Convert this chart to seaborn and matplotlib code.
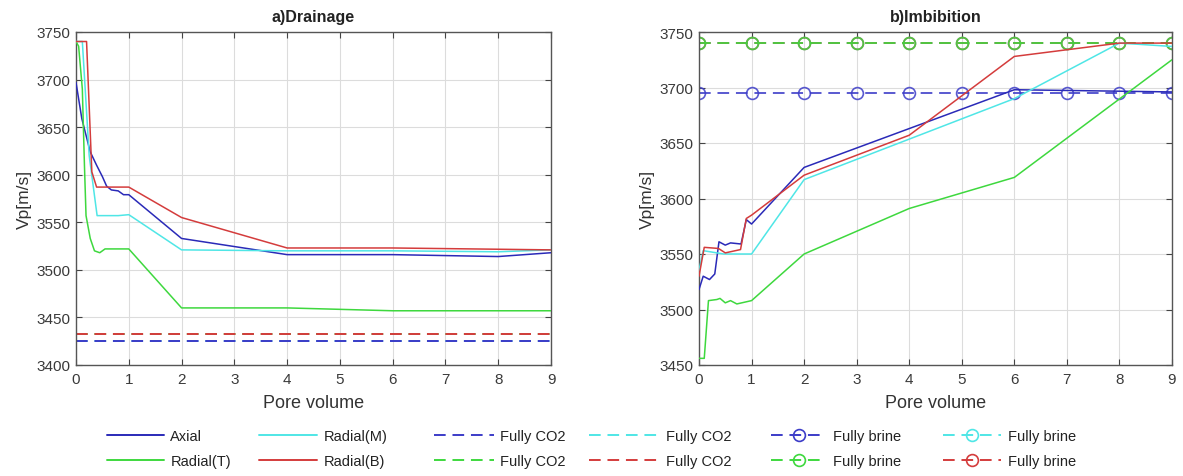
import numpy as np
import pandas as pd
import matplotlib
matplotlib.use("Agg")
import matplotlib.pyplot as plt
import seaborn as sns
from matplotlib.lines import Line2D

# ---------------- data ----------------
# a) Drainage
dr_axial_x = [0, 0.11, 0.27, 0.39, 0.5, 0.58, 0.67, 0.8, 0.9, 1.0, 2, 4, 6, 8, 9]
dr_axial_y = [3697, 3659, 3624, 3610, 3598, 3588, 3584, 3583, 3579, 3579, 3533, 3516, 3516, 3514, 3518]
dr_radT_x = [0, 0.05, 0.12, 0.16, 0.19, 0.27, 0.35, 0.45, 0.55, 1.0, 2, 4, 6, 9]
dr_radT_y = [3740, 3735, 3690, 3610, 3557, 3533, 3520, 3518, 3522, 3522, 3460, 3460, 3457, 3457]
dr_radM_x = [0, 0.12, 0.25, 0.4, 0.8, 1.0, 2, 4, 6, 8, 9]
dr_radM_y = [3740, 3740, 3620, 3557, 3557, 3558, 3521, 3520, 3520, 3519, 3521]
dr_radB_x = [0, 0.2, 0.3, 0.39, 1.0, 2, 4, 6, 9]
dr_radB_y = [3740, 3740, 3603, 3587, 3587, 3555, 3523, 3523, 3521]
co2_x = [0, 9]
co2_blue, co2_green, co2_cyan, co2_red = 3425, 3433, 3425, 3433

# b) Imbibition
im_axial_x = [0, 0.08, 0.2, 0.3, 0.38, 0.5, 0.6, 0.8, 0.9, 1.0, 2, 6, 9]
im_axial_y = [3518, 3530, 3527, 3532, 3561, 3558, 3560, 3559, 3581, 3577, 3628, 3698, 3696]
im_radT_x = [0, 0.1, 0.18, 0.34, 0.4, 0.5, 0.6, 0.72, 1.0, 2, 4, 6, 9]
im_radT_y = [3456, 3456, 3508, 3509, 3510, 3506, 3508, 3505, 3508, 3550, 3591, 3619, 3725]
im_radM_x = [0, 0.08, 0.47, 1.0, 2, 6, 8, 9]
im_radM_y = [3535, 3553, 3550, 3550, 3617, 3690, 3740, 3737]
im_radB_x = [0, 0.1, 0.37, 0.5, 0.79, 0.9, 1.0, 2, 4, 6, 8, 9]
im_radB_y = [3530, 3556, 3555, 3551, 3554, 3582, 3585, 3621, 3657, 3728, 3740, 3740]
brine_x = [0, 1, 2, 3, 4, 5, 6, 7, 8, 9]
brine_blue, brine_green, brine_cyan, brine_red = 3695, 3740, 3740, 3740

series_labels = ["Axial", "Radial(T)", "Radial(M)", "Radial(B)"]
co2_label = "Fully CO2"
brine_label = "Fully brine"
titles = ["a)Drainage", "b)Imbibition"]
xlabel = "Pore volume"
ylabel = "Vp[m/s]"

# ---------------- style ----------------
C_BLUE = "#2a2ab8"
C_BLUE_D = "#3c3cc8"
C_GREEN = "#3ed83e"
C_CYAN = "#4fe6e6"
C_RED = "#d43c3c"

sns.set_style("whitegrid")
plt.rcParams["font.family"] = ["Liberation Sans", "DejaVu Sans"]

W, H = 1183, 477
fig = plt.figure(figsize=(W / 100, H / 100), dpi=100)
ax1 = fig.add_axes([76 / W, 1 - 366 / H, 475 / W, 333 / H])
ax2 = fig.add_axes([699 / W, 1 - 366 / H, 473 / W, 333 / H])

LW = 1.1
DASH = (0, (6, 3.5))


def line(ax, x, y, color, **kw):
    sns.lineplot(x=np.asarray(x, float), y=np.asarray(y, float), ax=ax, color=color,
                 estimator=None, sort=False, legend=False, **kw)


# Drainage
for val, col, z in [(co2_green, C_GREEN, 1), (co2_cyan, C_CYAN, 1),
                    (co2_blue, C_BLUE_D, 2), (co2_red, C_RED, 2)]:
    line(ax1, co2_x, [val] * len(co2_x), col, linewidth=1.4, linestyle=DASH, zorder=z)
line(ax1, dr_axial_x, dr_axial_y, C_BLUE, linewidth=LW, zorder=3)
line(ax1, dr_radT_x, dr_radT_y, C_GREEN, linewidth=LW, zorder=3)
line(ax1, dr_radM_x, dr_radM_y, C_CYAN, linewidth=LW, zorder=3)
line(ax1, dr_radB_x, dr_radB_y, C_RED, linewidth=LW, zorder=3)

# Imbibition
for val, col, z in [(brine_cyan, C_CYAN, 1), (brine_red, C_RED, 2),
                    (brine_green, C_GREEN, 2.5), (brine_blue, C_BLUE_D, 2)]:
    line(ax2, brine_x, [val] * len(brine_x), col, linewidth=1.4, linestyle=DASH,
         marker="o", markersize=8.5, markerfacecolor="none", markeredgewidth=1.2,
         markeredgecolor=col, alpha=0.85, zorder=z)
line(ax2, im_axial_x, im_axial_y, C_BLUE, linewidth=LW, zorder=3)
line(ax2, im_radT_x, im_radT_y, C_GREEN, linewidth=LW, zorder=3)
line(ax2, im_radM_x, im_radM_y, C_CYAN, linewidth=LW, zorder=3)
line(ax2, im_radB_x, im_radB_y, C_RED, linewidth=LW, zorder=3)

for ax, title, ylim, yt in [(ax1, titles[0], (3400, 3750), np.arange(3400, 3751, 50)),
                            (ax2, titles[1], (3450, 3750), np.arange(3450, 3751, 50))]:
    ax.set_xlim(0, 9)
    ax.set_ylim(*ylim)
    ax.set_xticks(range(0, 10))
    ax.set_yticks(yt)
    ax.set_title(title, fontsize=11.5, fontweight="bold", color="#222222", pad=8)
    ax.set_xlabel(xlabel, fontsize=13, color="#333333", labelpad=6)
    ax.set_ylabel(ylabel, fontsize=12.5, color="#333333", labelpad=3)
    ax.grid(True, color="#dcdcdc", linewidth=0.8)
    ax.tick_params(axis="both", which="both", direction="in", length=4, width=0.8,
                   labelsize=11, colors="#444444", top=True, right=True,
                   bottom=True, left=True, pad=4)
    ax.tick_params(axis="x", pad=5)
    ax.tick_params(axis="both", labelcolor="#3a3a3a")
    for sp in ax.spines.values():
        sp.set_visible(True)
        sp.set_color("#555555")
        sp.set_linewidth(1.0)
    ax.set_facecolor("white")

# Legend: six two-row columns placed like the reference
def h(col, ls="-", marker=None):
    return Line2D([], [], color=col, linewidth=1.4, linestyle=ls, marker=marker,
                  markerfacecolor="none", markersize=8.5, markeredgewidth=1.2)

handles = [h(C_BLUE), h(C_GREEN), h(C_CYAN), h(C_RED),
           h(C_BLUE_D, DASH), h(C_GREEN, DASH), h(C_CYAN, DASH), h(C_RED, DASH),
           h(C_BLUE_D, DASH, "o"), h(C_GREEN, DASH, "o"), h(C_CYAN, DASH, "o"), h(C_RED, DASH, "o")]
labels = series_labels + [co2_label] * 4 + [brine_label] * 4
col_x = [107, 259, 434, 589, 771, 943]
col_hl = [3.9, 4.0, 4.1, 4.8, 3.8, 4.0]
for i, (cx, hl) in enumerate(zip(col_x, col_hl)):
    fig.legend(handles[2 * i:2 * i + 2], labels[2 * i:2 * i + 2], loc="upper left",
               bbox_to_anchor=(cx / W, 1 - 430 / H), borderpad=0, borderaxespad=0,
               frameon=False, fontsize=10.5, handlelength=hl, handletextpad=0.45,
               labelspacing=0.75, labelcolor="#222222")

fig.savefig("out.png", dpi=100, facecolor="white")
